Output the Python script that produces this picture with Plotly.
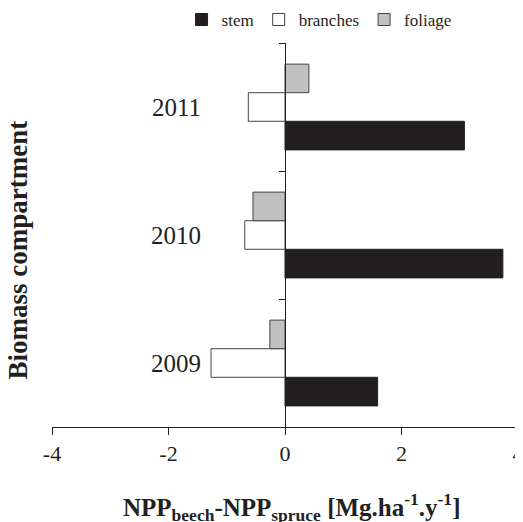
import plotly.graph_objects as go

years = ["2009", "2010", "2011"]
stem = [1.59, 3.74, 3.08]
branches = [-1.27, -0.69, -0.63]
foliage = [-0.26, -0.55, 0.41]
x_ticks = [-4, -2, 0, 2, 4]

ink = "#231f20"
font_family = "Liberation Serif"

fig = go.Figure()
fig.add_trace(go.Bar(y=years, x=stem, orientation="h", name="stem",
                     marker=dict(color=ink, line=dict(color=ink, width=1))))
fig.add_trace(go.Bar(y=years, x=branches, orientation="h", name="branches",
                     marker=dict(color="white", line=dict(color="#444444", width=1))))
fig.add_trace(go.Bar(y=years, x=foliage, orientation="h", name="foliage",
                     marker=dict(color="#c0c0c0", line=dict(color="#444444", width=1))))

for i, yr in enumerate(years):
    fig.add_annotation(x=-1.40, y=i, xref="x", yref="y", text=yr, showarrow=False,
                       xanchor="right", yanchor="middle",
                       font=dict(family=font_family, size=25, color=ink))

fig.add_annotation(x=0.513, y=-0.209, xref="paper", yref="paper",
                   text="<b>NPP<sub>beech</sub>-NPP<sub>spruce</sub> [Mg.ha<sup>-1</sup>.y<sup>-1</sup>]</b>",
                   showarrow=False, xanchor="center", yanchor="middle",
                   font=dict(family=font_family, size=25, color=ink))
fig.add_annotation(x=-0.0726, y=0.46, xref="paper", yref="paper",
                   text="<b>Biomass compartment</b>", textangle=-90,
                   showarrow=False, xanchor="center", yanchor="middle",
                   font=dict(family=font_family, size=27, color=ink))

fig.update_layout(
    width=523, height=514,
    margin=dict(l=44, r=13, t=35, b=95, autoexpand=False),
    paper_bgcolor="white", plot_bgcolor="white",
    barmode="group", bargap=0.33, bargroupgap=0,
    font=dict(family=font_family, color=ink),
    showlegend=True,
    legend=dict(orientation="h", x=0.278, xanchor="left", y=1.06, yanchor="middle",
                font=dict(family=font_family, size=17, color=ink),
                itemwidth=30, traceorder="normal", bgcolor="rgba(0,0,0,0)"),
    xaxis=dict(range=[-4, 4], tickvals=x_ticks, ticktext=[str(v) for v in x_ticks],
               showgrid=False, zeroline=False, showline=True, linecolor=ink, linewidth=1,
               ticks="outside", ticklen=7, tickcolor=ink, tickwidth=1,
               ticklabeloverflow="allow",
               tickfont=dict(family=font_family, size=22, color=ink)),
    yaxis=dict(type="category", categoryorder="array", categoryarray=years,
               range=[-0.5, 2.5], anchor="free", position=0.5,
               showgrid=False, zeroline=False, showline=True, linecolor=ink, linewidth=1,
               ticks="outside", ticklen=6, tickcolor=ink, tickson="boundaries",
               showticklabels=False),
)

fig.write_html("out.html")
